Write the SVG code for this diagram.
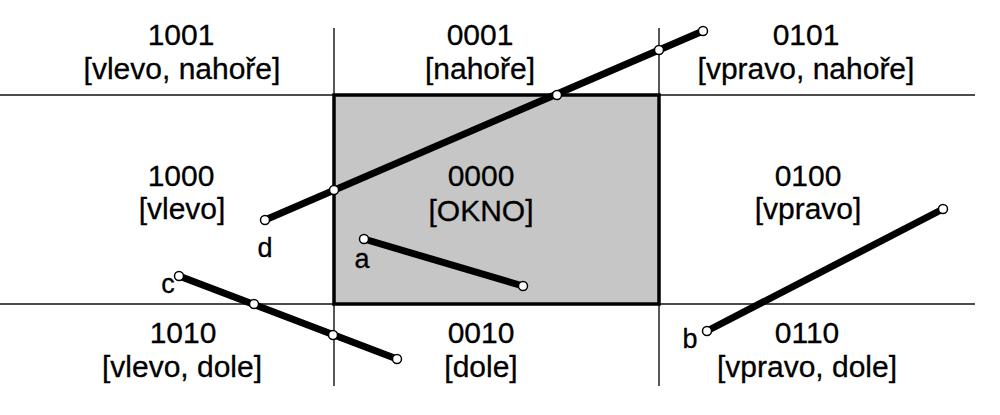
<svg xmlns="http://www.w3.org/2000/svg" width="1000" height="415" viewBox="0 0 1000 415">
<style>
.t{font-family:"Liberation Sans",Arial,sans-serif;font-size:30px;fill:#000;text-anchor:middle;stroke:#000;stroke-width:0.3}
.l{font-family:"Liberation Sans",Arial,sans-serif;font-size:27px;fill:#000;text-anchor:middle;stroke:#000;stroke-width:0.3}
.g{stroke:#111;stroke-width:1.4;fill:none}
.s{stroke:#000;stroke-width:7;stroke-linecap:round;fill:none}
.p{fill:#fff;stroke:#000;stroke-width:1.5}
</style>
<rect width="1000" height="415" fill="#fff"/>
<g id="grid">
<line class="g" x1="0" y1="95" x2="975" y2="95"/>
<line class="g" x1="0" y1="304" x2="975" y2="304"/>
<line class="g" x1="334" y1="28" x2="334" y2="386"/>
<line class="g" x1="659" y1="28" x2="659" y2="386"/>
</g>
<g id="okno">
<rect x="334" y="95" width="325" height="209" fill="#c6c6c6" stroke="#000" stroke-width="3.5"/>
<text class="t" x="481" y="186" fill="#1a1a1a">0000</text>
<text class="t" x="481" y="221" fill="#1a1a1a">[OKNO]</text>
</g>
<g id="r1001"><text class="t" x="181" y="45">1001</text><text class="t" x="182" y="79">[vlevo, nahoře]</text></g>
<g id="r0001"><text class="t" x="480" y="45">0001</text><text class="t" x="480" y="79">[nahoře]</text></g>
<g id="r0101"><text class="t" x="806" y="45">0101</text><text class="t" x="806" y="79">[vpravo, nahoře]</text></g>
<g id="r1000"><text class="t" x="181" y="186">1000</text><text class="t" x="182" y="219">[vlevo]</text></g>
<g id="r0100"><text class="t" x="808" y="186">0100</text><text class="t" x="808" y="219">[vpravo]</text></g>
<g id="r1010"><text class="t" x="183" y="343">1010</text><text class="t" x="182" y="377">[vlevo, dole]</text></g>
<g id="r0010"><text class="t" x="481" y="343">0010</text><text class="t" x="481" y="377">[dole]</text></g>
<g id="r0110"><text class="t" x="807" y="343">0110</text><text class="t" x="807" y="377">[vpravo, dole]</text></g>
<g id="segments">
<line class="s" x1="265" y1="220" x2="703" y2="31"/>
<line class="s" x1="364" y1="239" x2="523" y2="286"/>
<line class="s" x1="707" y1="331" x2="943" y2="209"/>
<line class="s" x1="179" y1="276" x2="397" y2="359"/>
<circle class="p" cx="265" cy="220" r="4.5"/>
<circle class="p" cx="334" cy="190" r="4.5"/>
<circle class="p" cx="557" cy="95" r="4.5"/>
<circle class="p" cx="659" cy="50" r="4.5"/>
<circle class="p" cx="703" cy="31" r="4.5"/>
<circle class="p" cx="364" cy="239" r="4.5"/>
<circle class="p" cx="523" cy="286" r="4.5"/>
<circle class="p" cx="707" cy="331" r="4.5"/>
<circle class="p" cx="943" cy="209" r="4.5"/>
<circle class="p" cx="179" cy="276" r="4.5"/>
<circle class="p" cx="254" cy="304" r="4.5"/>
<circle class="p" cx="333" cy="335" r="4.5"/>
<circle class="p" cx="397" cy="359" r="4.5"/>
<text class="l" x="265" y="257">d</text>
<text class="l" x="362" y="268">a</text>
<text class="l" x="168" y="293">c</text>
<text class="l" x="690" y="348">b</text>
</g>
</svg>
